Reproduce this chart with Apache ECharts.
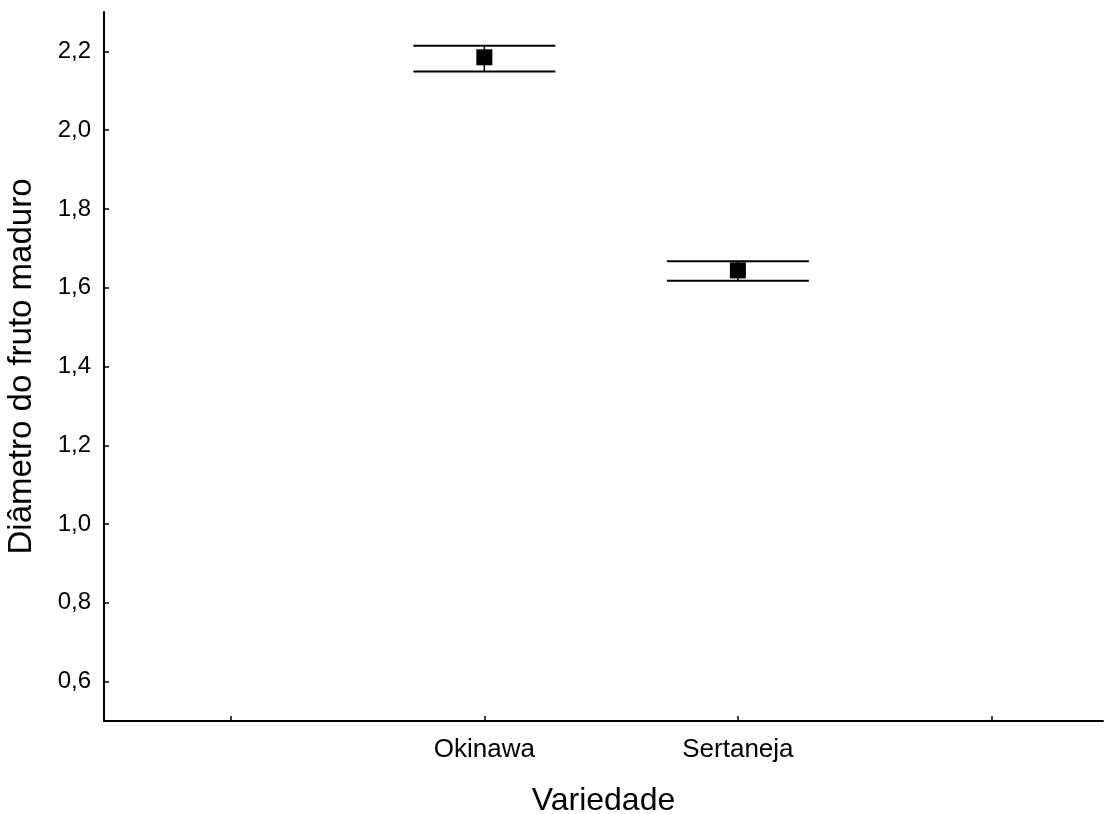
<!DOCTYPE html>
<html>
<head>
<meta charset="utf-8">
<script src="https://cdn.jsdelivr.net/npm/echarts@6/dist/echarts.min.js"></script>
<style>
  html, body { margin: 0; padding: 0; background: #fff; }
  #chart { width: 1105px; height: 814px; }
</style>
</head>
<body>
<div id="chart"></div>
<script>
// values
var categories = ['Okinawa', 'Sertaneja'];
var catPos = [2, 3];
var means = [2.185, 1.644];
var upper = [2.214, 1.667];
var lower = [2.149, 1.618];
var xTicks = [1, 2, 3, 4];
var yTicks = [0.6, 0.8, 1.0, 1.2, 1.4, 1.6, 1.8, 2.0, 2.2];

var font = '"Liberation Sans", Arial, sans-serif';

var pointData = means.map(function (m, i) { return [catPos[i], m]; });
var barData = means.map(function (m, i) { return [catPos[i], lower[i], upper[i]]; });

var myChart = echarts.init(document.getElementById('chart'));
var option = {
    animation: false,
    grid: { left: 104, right: 2, top: 12, bottom: 93, outerBoundsMode: 'none' },
    xAxis: {
        type: 'value',
        min: 0.5,
        max: 4.44,
        name: 'Variedade',
        nameLocation: 'middle',
        nameGap: 64,
        nameTextStyle: { fontFamily: font, fontSize: 32, color: '#000' },
        axisLine: { lineStyle: { color: '#000', width: 2 } },
        axisTick: { inside: true, length: 5, customValues: xTicks, lineStyle: { color: '#000', width: 1.5 } },
        axisLabel: {
            customValues: catPos,
            margin: 16,
            fontFamily: font, fontSize: 26, color: '#000',
            formatter: function (v) {
                var i = catPos.indexOf(v);
                return i >= 0 ? categories[i] : '';
            }
        },
        splitLine: { show: false }
    },
    yAxis: {
        type: 'value',
        min: 0.5,
        max: 2.3,
        name: 'Diâmetro do fruto maduro',
        nameLocation: 'middle',
        nameGap: 66,
        nameTextStyle: { fontFamily: font, fontSize: 33, color: '#000' },
        axisLine: { show: true, lineStyle: { color: '#000', width: 2 } },
        axisTick: { show: true, inside: true, length: 5, customValues: yTicks, lineStyle: { color: '#000', width: 1.5 } },
        axisLabel: {
            customValues: yTicks,
            margin: 13,
            fontFamily: font, fontSize: 24, color: '#000',
            formatter: function (v) { return v.toFixed(1).replace('.', ','); }
        },
        splitLine: { show: false }
    },
    series: [
        {
            type: 'custom',
            data: barData,
            renderItem: function (params, api) {
                var x = api.value(0);
                var lo = api.coord([x, api.value(1)]);
                var hi = api.coord([x, api.value(2)]);
                var hw = api.size([0.28, 0])[0];
                var st = { stroke: '#000', lineWidth: 2 };
                return {
                    type: 'group',
                    children: [
                        { type: 'line', shape: { x1: lo[0] - hw, y1: lo[1], x2: lo[0] + hw, y2: lo[1] }, style: st },
                        { type: 'line', shape: { x1: hi[0] - hw, y1: hi[1], x2: hi[0] + hw, y2: hi[1] }, style: st },
                        { type: 'line', shape: { x1: lo[0], y1: lo[1], x2: hi[0], y2: hi[1] }, style: { stroke: '#000', lineWidth: 1.5 } }
                    ]
                };
            },
            z: 2
        },
        {
            type: 'scatter',
            data: pointData,
            symbol: 'rect',
            symbolSize: 16,
            itemStyle: { color: '#000', opacity: 1 },
            z: 3
        }
    ]
};
myChart.setOption(option);
</script>
</body>
</html>
